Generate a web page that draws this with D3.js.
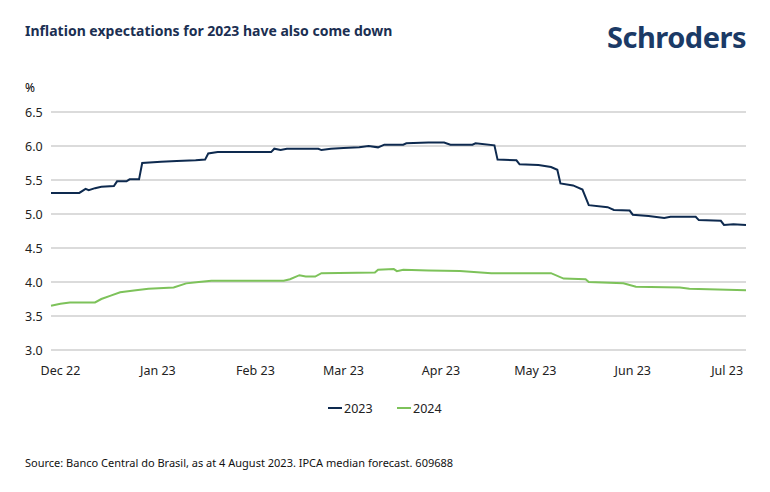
<!DOCTYPE html><html><head><meta charset="utf-8"><script src="https://cdn.jsdelivr.net/npm/d3@7"></script>
<style>body{margin:0;background:#fff}text{font-family:"Noto Sans",sans-serif}</style></head><body><svg id="c" width="770" height="492"></svg><script>
const yTicks=[3.0,3.5,4.0,4.5,5.0,5.5,6.0,6.5];
const monthLabels=["Dec 22","Jan 23","Feb 23","Mar 23","Apr 23","May 23","Jun 23","Jul 23"];
const monthDates=["2022-12-01","2023-01-01","2023-02-01","2023-03-01","2023-04-01","2023-05-01","2023-06-01","2023-07-01"];
const dates2023=["2022-11-28","2022-12-07","2022-12-09","2022-12-10","2022-12-12","2022-12-14","2022-12-18","2022-12-19","2022-12-22","2022-12-23","2022-12-26","2022-12-27","2023-01-02","2023-01-07","2023-01-13","2023-01-16","2023-01-17","2023-01-20","2023-02-06","2023-02-07","2023-02-09","2023-02-11","2023-02-21","2023-02-22","2023-02-25","2023-03-01","2023-03-06","2023-03-09","2023-03-12","2023-03-14","2023-03-20","2023-03-21","2023-03-28","2023-04-02","2023-04-04","2023-04-11","2023-04-12","2023-04-18","2023-04-19","2023-04-25","2023-04-26","2023-05-02","2023-05-06","2023-05-08","2023-05-09","2023-05-13","2023-05-16","2023-05-18","2023-05-24","2023-05-26","2023-05-31","2023-06-01","2023-06-06","2023-06-11","2023-06-13","2023-06-21","2023-06-22","2023-06-29","2023-06-30","2023-07-03","2023-07-07"];
const values2023=[5.31,5.31,5.37,5.35,5.38,5.40,5.41,5.48,5.48,5.51,5.51,5.75,5.77,5.78,5.79,5.80,5.89,5.91,5.91,5.96,5.94,5.96,5.96,5.94,5.96,5.97,5.98,6.00,5.98,6.02,6.02,6.04,6.05,6.05,6.02,6.02,6.04,6.01,5.80,5.79,5.73,5.72,5.69,5.65,5.45,5.42,5.36,5.13,5.10,5.06,5.05,4.99,4.97,4.94,4.96,4.96,4.91,4.90,4.84,4.85,4.84];
const dates2024=["2022-11-28","2022-12-01","2022-12-04","2022-12-12","2022-12-14","2022-12-17","2022-12-20","2022-12-25","2022-12-29","2023-01-06","2023-01-10","2023-01-14","2023-01-18","2023-02-10","2023-02-12","2023-02-15","2023-02-17","2023-02-20","2023-02-22","2023-03-11","2023-03-12","2023-03-17","2023-03-18","2023-03-20","2023-03-28","2023-04-07","2023-04-17","2023-05-06","2023-05-10","2023-05-17","2023-05-18","2023-05-29","2023-06-02","2023-06-16","2023-06-19","2023-07-07"];
const values2024=[3.65,3.68,3.70,3.70,3.75,3.80,3.85,3.88,3.90,3.92,3.98,4.00,4.02,4.02,4.04,4.10,4.08,4.08,4.13,4.14,4.18,4.19,4.16,4.18,4.17,4.16,4.13,4.13,4.05,4.04,4.00,3.98,3.93,3.92,3.90,3.88];
const p=d3.timeParse("%Y-%m-%d");
const svg=d3.select("#c");
const x=d3.scaleTime().domain([p("2022-11-28"),p("2023-07-07")]).range([51,746]);
const y=d3.scaleLinear().domain([3,6.5]).range([350,112]);
svg.append("text").attr("x",25).attr("y",36).attr("font-size",14).attr("font-weight",700).attr("fill","#1b2f52").text("Inflation expectations for 2023 have also come down");
svg.append("text").attr("x",746).attr("y",48).attr("text-anchor","end").attr("font-size",29).attr("font-weight",700).attr("fill","#1b3a66").attr("letter-spacing",-0.5).text("Schroders");
svg.append("text").attr("x",25).attr("y",92).attr("font-size",12).attr("fill","#000").text("%");
svg.append("g").selectAll("line").data(yTicks).join("line").attr("x1",51).attr("x2",746).attr("y1",d=>y(d)).attr("y2",d=>y(d)).attr("stroke","#cfcfcf").attr("stroke-width",1.3);
svg.append("g").selectAll("text").data(yTicks).join("text").attr("x",25).attr("y",d=>y(d)+4.5).attr("font-size",12.5).attr("fill","#222").text(d=>d.toFixed(1));
svg.append("g").selectAll("text").data(monthLabels).join("text").attr("x",(d,i)=>x(p(monthDates[i]))).attr("y",375).attr("text-anchor","middle").attr("font-size",12.5).attr("fill","#222").text(d=>d);
const line=d3.line().x(d=>x(p(d[0]))).y(d=>y(d[1]));
svg.append("path").attr("d",line(dates2024.map((d,i)=>[d,values2024[i]]))).attr("fill","none").attr("stroke","#7dc25a").attr("stroke-width",2);
svg.append("path").attr("d",line(dates2023.map((d,i)=>[d,values2023[i]]))).attr("fill","none").attr("stroke","#0e2a4f").attr("stroke-width",2);
const leg=[["2023","#0e2a4f",328],["2024","#7dc25a",397]];
leg.forEach(([t,c,lx])=>{svg.append("line").attr("x1",lx).attr("x2",lx+14).attr("y1",408).attr("y2",408).attr("stroke",c).attr("stroke-width",2);
svg.append("text").attr("x",lx+16).attr("y",412.5).attr("font-size",12.5).attr("fill","#222").text(t);});
svg.append("text").attr("x",25).attr("y",467).attr("font-size",11).attr("fill","#111").text("Source: Banco Central do Brasil, as at 4 August 2023. IPCA median forecast. 609688");
</script></body></html>
